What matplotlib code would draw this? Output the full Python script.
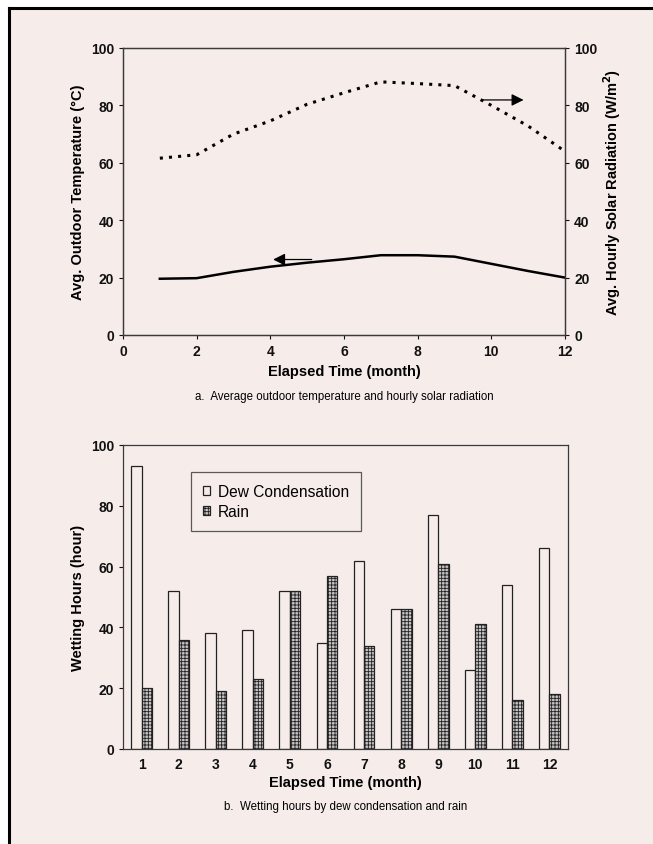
import matplotlib
matplotlib.use("Agg")
import matplotlib.pyplot as plt
from matplotlib.patches import Rectangle
import numpy as np

plt.rcParams["font.family"] = ["Liberation Sans", "DejaVu Sans"]
plt.rcParams["hatch.linewidth"] = 0.6

BG = "#f6edeb"

# panel a: monthly averages
months = [1, 2, 3, 4, 5, 6, 7, 8, 9, 10, 11, 12]
temperature = [19.6, 19.8, 22.0, 23.8, 25.2, 26.4, 27.8, 27.8, 27.3, 24.8, 22.3, 20.0]
solar = [61.6, 62.8, 70.0, 74.6, 80.4, 84.4, 88.2, 87.6, 86.9, 80.0, 72.8, 64.0]

# panel b: wetting hours
dew_hours = [93, 52, 38, 39, 52, 35, 62, 46, 77, 26, 54, 66]
rain_hours = [20, 36, 19, 23, 52, 57, 34, 46, 61, 41, 16, 18]

W, H = 653, 845
fig = plt.figure(figsize=(W / 100, H / 100), dpi=100)
fig.patch.set_facecolor("white")

# page frame: black rule on top and left only
fig.patches.append(Rectangle((9 / W, 0), 1, 1 - 9 / H, transform=fig.transFigure,
                             facecolor=BG, edgecolor="none", zorder=-2))
fig.add_artist(plt.Line2D([9 / W, 9 / W], [0, 1 - 9 / H], color="black", lw=2.2,
                          transform=fig.transFigure))
fig.add_artist(plt.Line2D([9 / W, 1], [1 - 9 / H, 1 - 9 / H], color="black", lw=2.2,
                          transform=fig.transFigure))

LABEL = dict(fontsize=10.5, fontweight="bold")


def frac(x0, y0, x1, y1):
    return [x0 / W, 1 - y1 / H, (x1 - x0) / W, (y1 - y0) / H]


def style_axes(ax):
    ax.set_facecolor("none")
    for s in ax.spines.values():
        s.set_color("#3a3a3a")
        s.set_linewidth(0.9)
    ax.tick_params(colors="#111111", labelsize=10, length=3, width=0.8)
    for t in ax.get_xticklabels() + ax.get_yticklabels():
        t.set_fontweight("bold")


# ---- panel a ----
ax1 = fig.add_axes(frac(123, 49, 565, 336))
ax1.plot(months, temperature, color="black", lw=1.8)
ax1.set_xlim(0, 12)
ax1.set_ylim(0, 100)
ax1.set_xticks(range(0, 13, 2))
ax1.set_yticks(range(0, 101, 20))
style_axes(ax1)
ax1.set_xlabel("Elapsed Time (month)", labelpad=4, **LABEL)
ax1.set_ylabel("Avg. Outdoor Temperature (°C)", labelpad=4, **LABEL)

ax2 = ax1.twinx()
ax2.plot(months, solar, color="black", lw=2.2, linestyle=(0, (1, 2.0)))
ax2.set_ylim(0, 100)
ax2.set_yticks(range(0, 101, 20))
style_axes(ax2)
ax2.set_ylabel("Avg. Hourly Solar Radiation (W/m$^\\mathbf{2}$)", labelpad=3, **LABEL)

arrow = dict(arrowstyle="-|>", color="black", lw=0.9, mutation_scale=18)
ax1.annotate("", xy=(4.0, 26.3), xytext=(5.2, 26.3), arrowprops=arrow)
ax2.annotate("", xy=(10.95, 81.9), xytext=(9.7, 81.9), arrowprops=arrow)

fig.text(0.5 * (123 + 565) / W, 1 - 397 / H,
         "a.  Average outdoor temperature and hourly solar radiation",
         ha="center", va="center", fontsize=8.3)

# ---- panel b ----
ax3 = fig.add_axes(frac(123, 446, 568, 750))
x = np.array(months)
bw = 0.28
ax3.bar(x - bw / 2, dew_hours, width=bw, facecolor="none", edgecolor="#222222",
        lw=0.9, label="Dew Condensation")
ax3.bar(x + bw / 2, rain_hours, width=bw, facecolor="#c8c4c4", edgecolor="#222222",
        hatch="+++++", lw=0.9, label="Rain")
ax3.set_xlim(0.5, 12.5)
ax3.set_ylim(0, 100)
ax3.set_xticks(months)
ax3.set_yticks(range(0, 101, 20))
style_axes(ax3)
ax3.tick_params(axis="x", length=0, pad=6)
ax3.set_xlabel("Elapsed Time (month)", labelpad=3, **LABEL)
ax3.set_ylabel("Wetting Hours (hour)", labelpad=4, **LABEL)

leg = ax3.legend(loc="upper left", bbox_to_anchor=(0.135, 0.937), fontsize=11.2,
                 frameon=True, fancybox=False, handlelength=0.5, handleheight=0.5,
                 handletextpad=0.5, borderpad=0.75, labelspacing=0.35)
leg.get_frame().set_facecolor(BG)
leg.get_frame().set_edgecolor("#333333")
leg.get_frame().set_linewidth(0.9)

fig.text(0.5 * (123 + 568) / W, 1 - 807 / H,
         "b.  Wetting hours by dew condensation and rain",
         ha="center", va="center", fontsize=8.3)

fig.savefig("out.png", dpi=100, facecolor=fig.get_facecolor())
